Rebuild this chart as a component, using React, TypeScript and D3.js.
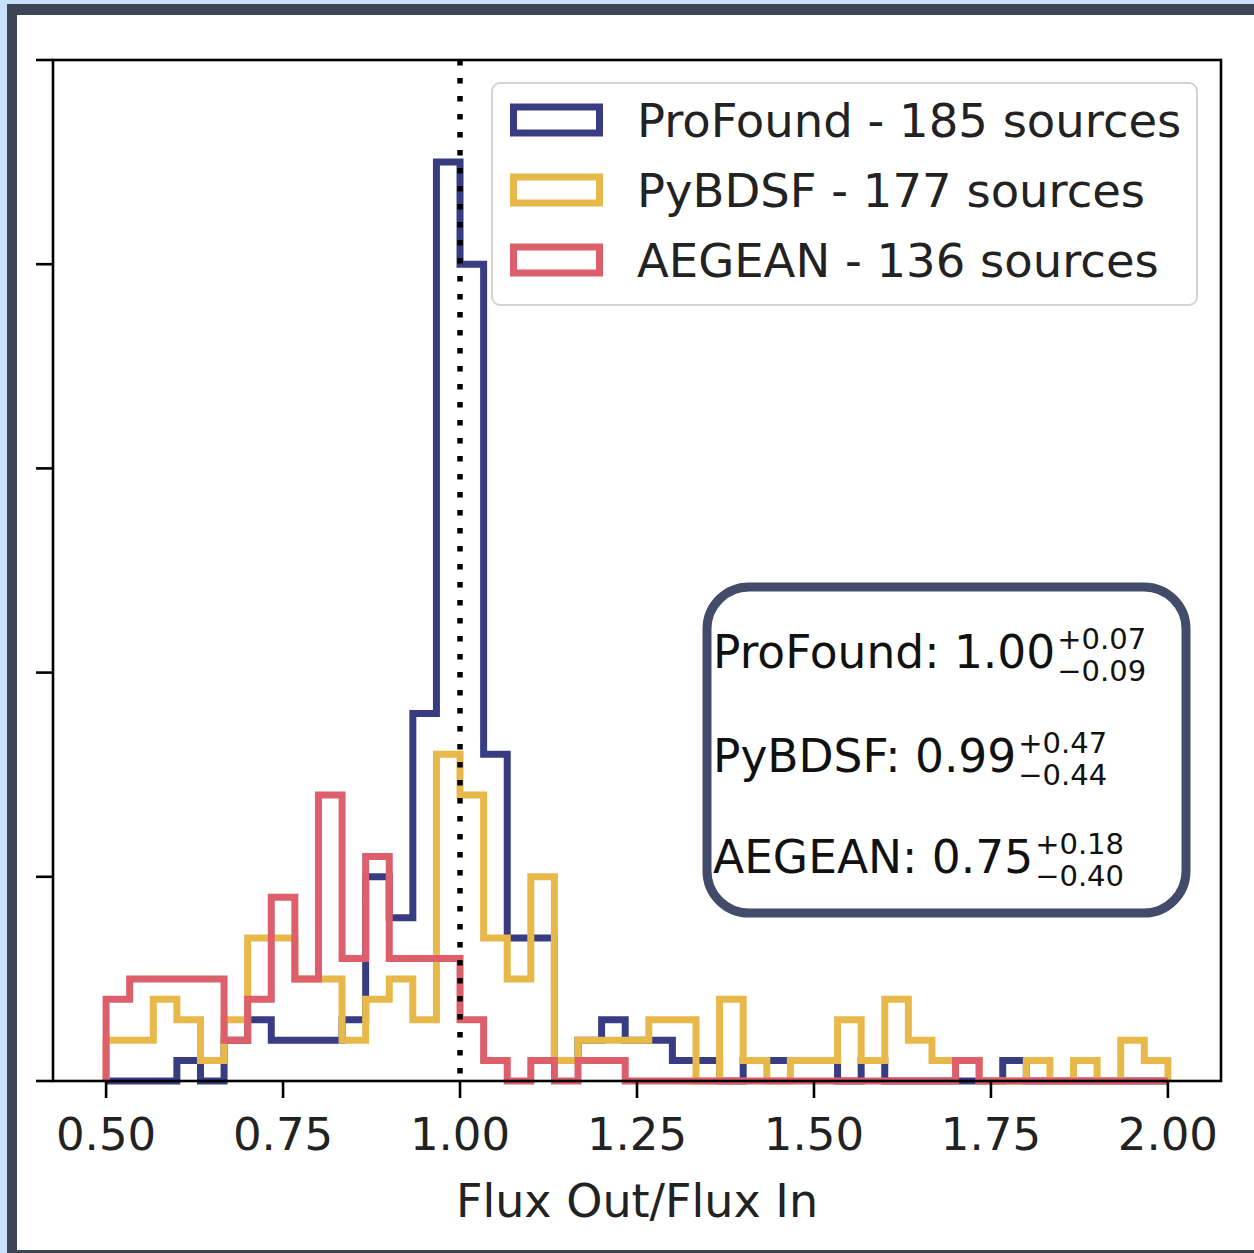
import React, { useEffect, useRef } from 'react';
import * as d3 from 'd3';

// ---- data ----
const binStart = 0.5;
const binEnd = 2.0;
const binCount = 45;

const profound = [0, 0, 0, 1, 0, 2, 3, 2, 2, 2, 3, 10, 8, 18, 45, 40, 16, 7, 7, 1, 2, 3, 2, 2, 1, 1, 0, 1, 1, 1, 1, 0, 1, 0, 0, 0, 0, 0, 1, 0, 0, 0, 0, 0, 0];
const pybdsf = [2, 2, 4, 3, 1, 3, 7, 7, 5, 5, 2, 4, 5, 3, 16, 14, 7, 5, 10, 1, 2, 2, 2, 3, 3, 0, 4, 1, 0, 1, 1, 3, 1, 4, 2, 1, 1, 0, 0, 1, 0, 1, 0, 2, 1];
const aegean = [4, 5, 5, 5, 5, 2, 4, 9, 5, 14, 6, 11, 6, 6, 6, 3, 1, 0, 1, 0, 1, 1, 0, 0, 0, 0, 0, 0, 0, 0, 0, 0, 0, 0, 0, 0, 1, 0, 0, 0, 0, 0, 0, 0, 0];

const seriesLabels = ['ProFound - 185 sources', 'PyBDSF - 177 sources', 'AEGEAN - 136 sources'];
const seriesColors = ['#383d83', '#e8b94a', '#dd5f6c'];

const xTicks = [0.5, 0.75, 1.0, 1.25, 1.5, 1.75, 2.0];
const xTickLabels = ['0.50', '0.75', '1.00', '1.25', '1.50', '1.75', '2.00'];
const yTicks = [0, 10, 20, 30, 40, 50];
const xLabel = 'Flux Out/Flux In';

const statNames = ['ProFound: 1.00', 'PyBDSF: 0.99', 'AEGEAN: 0.75'];
const statPlus = ['+0.07', '+0.47', '+0.18'];
const statMinus = ['\u22120.09', '\u22120.44', '\u22120.40'];

const refLine = 1.0;

export default function App() {
  const ref = useRef<SVGSVGElement | null>(null);

  useEffect(() => {
    const svg = d3.select(ref.current);
    svg.selectAll('*').remove();
    const W = 1254, H = 1253;
    const font = 'DejaVu Sans';

    svg.append('rect').attr('x', 0).attr('y', 0).attr('width', W).attr('height', H).attr('fill', '#ffffff');
    // page frame
    svg.append('rect').attr('x', 0).attr('y', 0).attr('width', 7).attr('height', H).attr('fill', '#c7e2f8');
    svg.append('rect').attr('x', 0).attr('y', 0).attr('width', W).attr('height', 4).attr('fill', '#c7e2f8');
    svg.append('rect').attr('x', 7).attr('y', 4).attr('width', 10).attr('height', H).attr('fill', '#3d4454');
    svg.append('rect').attr('x', 7).attr('y', 4).attr('width', W).attr('height', 11).attr('fill', '#3d4454');
    svg.append('rect').attr('x', 7).attr('y', 1250).attr('width', W).attr('height', 3).attr('fill', '#3d4454');

    const L = 53, R = 1221, T = 60, B = 1081;
    const x = d3.scaleLinear().domain([0.425, 2.075]).range([L, R]);
    const y = d3.scaleLinear().domain([0, 50]).range([B, T]);

    const step = (binEnd - binStart) / binCount;
    const edges = d3.range(binCount + 1).map((i) => binStart + i * step);

    const line = d3.line<[number, number]>().x((d) => x(d[0])).y((d) => y(d[1]));

    const series = [profound, pybdsf, aegean];
    series.forEach((vals, si) => {
      const pts: [number, number][] = [[edges[0], 0]];
      vals.forEach((v, i) => {
        pts.push([edges[i], v]);
        pts.push([edges[i + 1], v]);
      });
      pts.push([edges[binCount], 0]);
      svg.append('path')
        .attr('d', line(pts))
        .attr('fill', 'none')
        .attr('stroke', seriesColors[si])
        .attr('stroke-width', 7)
        .attr('stroke-linejoin', 'miter');
    });

    // reference dotted line
    svg.append('line')
      .attr('x1', x(refLine)).attr('x2', x(refLine))
      .attr('y1', T).attr('y2', B)
      .attr('stroke', '#000').attr('stroke-width', 5.5)
      .attr('stroke-dasharray', '5.5 12.5');

    // axes frame
    svg.append('rect').attr('x', L).attr('y', T).attr('width', R - L).attr('height', B - T)
      .attr('fill', 'none').attr('stroke', '#000').attr('stroke-width', 2.6);

    xTicks.forEach((t, i) => {
      svg.append('line').attr('x1', x(t)).attr('x2', x(t)).attr('y1', B).attr('y2', B + 17)
        .attr('stroke', '#000').attr('stroke-width', 2.6);
      svg.append('text').attr('x', x(t)).attr('y', 1150).attr('text-anchor', 'middle')
        .attr('font-family', font).attr('font-size', 45).attr('fill', '#222').text(xTickLabels[i]);
    });
    yTicks.forEach((t) => {
      svg.append('line').attr('x1', L - 17).attr('x2', L).attr('y1', y(t)).attr('y2', y(t))
        .attr('stroke', '#000').attr('stroke-width', 2.6);
    });

    svg.append('text').attr('x', (x(0.5) + x(2.0)) / 2).attr('y', 1217).attr('text-anchor', 'middle')
      .attr('font-family', font).attr('font-size', 46).attr('fill', '#222').text(xLabel);

    // legend
    svg.append('rect').attr('x', 492).attr('y', 83).attr('width', 705).attr('height', 222)
      .attr('rx', 8).attr('fill', 'rgba(255,255,255,0.85)').attr('stroke', '#d4d4d4').attr('stroke-width', 2);
    seriesLabels.forEach((lab, i) => {
      const cy = 120 + i * 70;
      svg.append('rect').attr('x', 513.5).attr('y', cy - 13).attr('width', 86).attr('height', 26)
        .attr('fill', 'none').attr('stroke', seriesColors[i]).attr('stroke-width', 7);
      svg.append('text').attr('x', 637).attr('y', cy + 17).attr('font-family', font)
        .attr('font-size', 46.5).attr('fill', '#222').text(lab);
    });

    // stats box
    svg.append('rect').attr('x', 707).attr('y', 587).attr('width', 479).attr('height', 326)
      .attr('rx', 42).attr('fill', '#fff').attr('stroke', '#434b6a').attr('stroke-width', 9);
    const baselines = [668, 772, 873];
    statNames.forEach((nm, i) => {
      const t = svg.append('text').attr('x', 713).attr('y', baselines[i]).attr('font-family', font)
        .attr('font-size', 45.5).attr('fill', '#111').text(nm);
      const w = (t.node() as SVGTextElement).getComputedTextLength();
      const sx = 713 + w + 2;
      svg.append('text').attr('x', sx).attr('y', baselines[i] - 19).attr('font-family', font)
        .attr('font-size', 29).attr('fill', '#111').text(statPlus[i]);
      svg.append('text').attr('x', sx).attr('y', baselines[i] + 13).attr('font-family', font)
        .attr('font-size', 29).attr('fill', '#111').text(statMinus[i]);
    });
  }, []);

  return (
    <svg ref={ref} width={1254} height={1253}
      style={{ position: 'absolute', left: 0, top: 0, display: 'block' }} />
  );
}
